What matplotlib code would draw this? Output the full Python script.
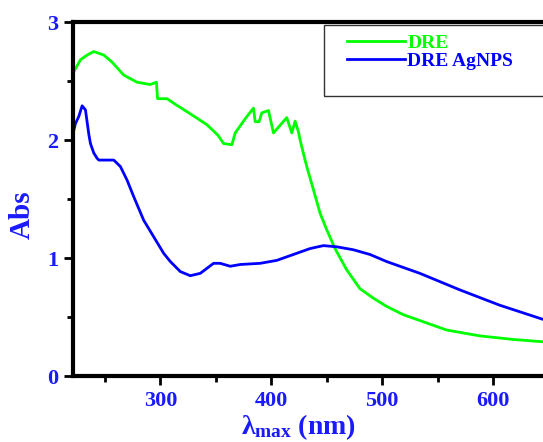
import matplotlib
matplotlib.use("Agg")
import matplotlib.pyplot as plt
from matplotlib.patches import Rectangle

# UV-vis spectra
dre_wl = [221.4, 228, 234, 240, 249, 256.5, 267, 279, 291, 296.5, 297.5, 306, 314, 324,
          342, 352, 357, 364.5, 367.5, 376.5, 384, 385.5, 389, 391.5, 397.5, 402, 414,
          418.5, 421.5, 424.5, 426, 432, 438, 444, 450, 457.5, 468, 480, 492, 504, 519,
          534, 558, 588, 618, 645]
dre_abs = [2.57, 2.68, 2.72, 2.75, 2.72, 2.66, 2.55, 2.49, 2.47, 2.49, 2.35, 2.35, 2.30, 2.24,
           2.13, 2.04, 1.97, 1.96, 2.06, 2.18, 2.27, 2.155, 2.155, 2.23, 2.25, 2.06, 2.19,
           2.06, 2.16, 2.07, 2.0, 1.775, 1.58, 1.38, 1.24, 1.08, 0.90, 0.74, 0.66, 0.59, 0.52,
           0.47, 0.39, 0.34, 0.31, 0.29]

agnps_wl = [221.4, 223.5, 226.5, 229.5, 232.5, 235.5, 237, 240, 243, 244.5, 258, 264, 270,
            276, 285, 294, 303, 309, 318, 327, 336, 348, 354, 363, 372, 390, 405, 423, 435,
            447, 459, 474, 489, 504, 534, 570, 606, 645]
agnps_abs = [2.06, 2.14, 2.20, 2.29, 2.255, 2.05, 1.97, 1.89, 1.845, 1.83, 1.83, 1.775, 1.66,
             1.52, 1.32, 1.18, 1.04, 0.97, 0.885, 0.85, 0.87, 0.955, 0.955, 0.93, 0.945, 0.955,
             0.98, 1.04, 1.08, 1.105, 1.095, 1.07, 1.03, 0.97, 0.87, 0.73, 0.60, 0.48]

labels = ["DRE", "DRE AgNPS"]
x_major = [300, 400, 500, 600]
x_minor = [250, 350, 450, 550]
y_major = [0, 1, 2, 3]
y_minor = [0.5, 1.5, 2.5]

blue = "#1a1aff"
serif = "Liberation Serif"
plt.rcParams["mathtext.fontset"] = "custom"
plt.rcParams["mathtext.rm"] = "Liberation Serif:bold"
plt.rcParams["mathtext.it"] = "Liberation Serif:bold"
plt.rcParams["mathtext.bf"] = "Liberation Serif:bold"

fig = plt.figure(figsize=(5.43, 4.42), dpi=100)
ax = fig.add_axes([0.1339, 0.1493, 0.8661, 0.8009])

ax.plot(dre_wl, dre_abs, color="#00ff00", lw=2.0, label=labels[0])
ax.plot(agnps_wl, agnps_abs, color="#0000ff", lw=2.0, label=labels[1])

ax.set_xlim(221, 645)
ax.set_ylim(0, 3)
ax.set_xticks(x_major)
ax.set_xticks(x_minor, minor=True)
ax.set_yticks(y_major)
ax.set_yticks(y_minor, minor=True)

for side in ["left", "bottom", "top"]:
    ax.spines[side].set_linewidth(3)
ax.spines["right"].set_visible(False)
ax.tick_params(which="major", direction="out", length=6.5, width=2, pad=4,
               labelsize=16, labelcolor=blue)
ax.tick_params(which="minor", direction="out", length=4, width=2)
for t in ax.get_xticklabels() + ax.get_yticklabels():
    t.set_fontfamily(serif)
    t.set_fontweight("bold")

fig.text(22 / 543, 1 - 215 / 442, "Abs", rotation=90, ha="center", va="center",
         fontsize=21, fontfamily=serif, fontweight="bold", color=blue)
fig.text(298 / 543, 1 - 434 / 442, r"$\lambda_{\rm max}$ (nm)", ha="center", va="baseline",
         fontsize=20, fontfamily=serif, fontweight="bold", color=blue)

leg = ax.legend(loc="upper left", bbox_to_anchor=(347 / 543, 1 - 34 / 442),
                bbox_transform=fig.transFigure, frameon=False, borderpad=0,
                borderaxespad=0, handlelength=3.0, handletextpad=0.1,
                labelspacing=0.05, labelcolor="linecolor",
                prop={"family": serif, "weight": "bold", "size": 14})
fig.add_artist(Rectangle((324 / 543, 1 - 96 / 442), 0.5, 71 / 442,
                         transform=fig.transFigure, fill=False, ec="#333333", lw=1))

fig.savefig("out.png", dpi=100)
